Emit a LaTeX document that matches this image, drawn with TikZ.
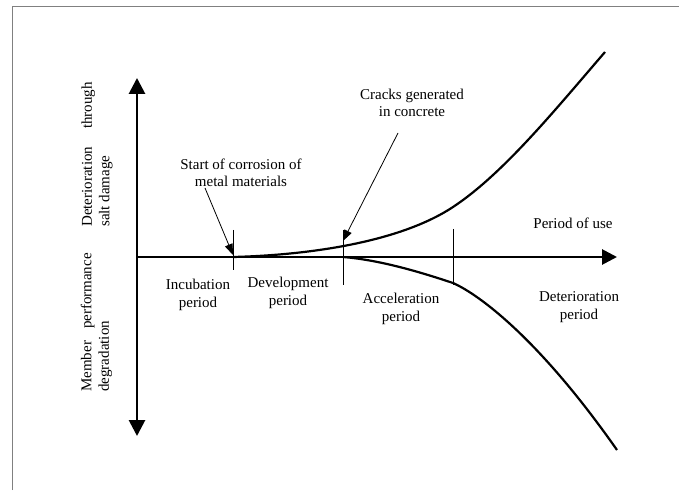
\documentclass[tikz,border=0pt]{standalone}
\usepackage{fontspec}
\setmainfont{Liberation Serif}
\usetikzlibrary{arrows.meta}

\begin{document}
\begin{tikzpicture}[x=1pt,y=1pt,
  every node/.style={font=\fontsize{15}{17.5}\selectfont,align=center,inner sep=0pt},
  axisline/.style={line width=2.8pt},
  curve/.style={line width=2.2pt},
  tick/.style={line width=0.8pt},
  pointer/.style={line width=0.8pt,-{Triangle[length=11pt,width=8pt]}}]
\useasboundingbox (0,0) rectangle (679,490);
% frame
\draw[gray,line width=1pt] (12,0) -- (12,483) -- (679,483);

% axes
\coordinate (o) at (137,233);
\coordinate (ytop) at (137,412);
\coordinate (ybot) at (137,54);
\coordinate (xend) at (617,233);
\draw[axisline,{Triangle[length=16pt,width=16pt]}-{Triangle[length=16pt,width=16pt]}] (ybot) -- (ytop);
\draw[axisline,-{Triangle[length=15pt,width=15pt]}] (o) -- (xend);

% ticks between periods
\draw[tick] (233,260) -- (233,220);
\draw[tick] (343,260) -- (343,205);
\draw[tick] (453,261) -- (453,205);

% deterioration curve (up)
\draw[curve] (233,233) .. controls (310,235) and (400,248) .. (453,283)
  .. controls (503,316) and (555,380) .. (605,438);
% performance curve (down)
\draw[curve] (343,233) .. controls (380,230) and (420,218) .. (453,207)
  .. controls (480,195) and (540,150) .. (617,40);

% NODES
\node (corr) at (241,317) {Start of corrosion of\\metal materials};
\node (cracks) at (412,387) {Cracks generated\\in concrete};
\node (use) at (573,267) {Period of use};
\node (incub) at (198,195) {Incubation\\period};
\node (devel) at (288,197) {Development\\period};
\node (accel) at (401,181) {Acceleration\\period};
\node (deter) at (579,183) {Deterioration\\period};
\node[rotate=90,anchor=west,align=left] (salt) at (97,263) {Deterioration\hspace{1.2em}through\\salt damage};
\node[rotate=90,anchor=west,align=left] (perf) at (96.5,98) {Member\hspace{0.8em}performance\\degradation};

% pointers
\coordinate (corrfrom) at (205,302);
\coordinate (corrto) at (233,235);
\coordinate (crackfrom) at (398,357);
\coordinate (crackto) at (343,249);
\draw[pointer] (corrfrom) -- (corrto);
\draw[pointer] (crackfrom) -- (crackto);
\end{tikzpicture}
\end{document}
